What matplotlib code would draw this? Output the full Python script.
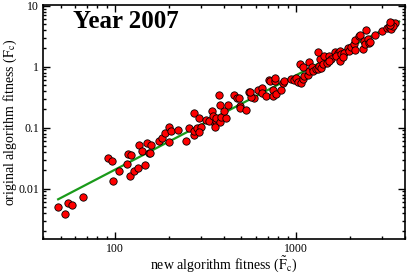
import matplotlib
matplotlib.use("Agg")
import matplotlib.pyplot as plt
import matplotlib.ticker as ticker

plt.rcParams['font.family'] = ['Liberation Serif', 'DejaVu Serif']
plt.rcParams['mathtext.fontset'] = 'stix'

# new algorithm fitness (x) vs original algorithm fitness (y)
new_fit = [48.7, 52.6, 54.8, 58.2, 66.4, 91.9, 95.9, 97.1, 105.6, 116, 118, 123, 121, 127, 134, 146,
           136, 141, 151, 158, 154, 175, 183, 189, 198, 199, 156,
           204, 223, 248, 258, 272, 274, 275, 291, 285, 297, 291, 320, 331, 345, 347, 356, 363, 371,
           360, 379, 384, 357, 412, 400, 379, 376, 421, 453, 470, 484, 489, 493, 527, 550, 583, 566,
           621, 648, 651, 685, 708, 555,
           745, 745, 778, 822, 721, 762, 768, 845, 864, 940, 981, 1003, 1024, 1069, 1100, 1104, 1161,
           1177, 1055, 1089, 1186, 1227, 1235, 1290, 1318, 1346, 1364, 1375, 1406, 1318, 1436, 1479,
           1530, 1563, 1530, 1652, 1700, 1752, 1665, 1775, 1752, 1850, 1810, 1929, 1972, 2014, 2100,
           2125, 2125, 2219, 2263, 2334, 2383, 2407, 2437, 2489, 2542, 2570, 2742, 2972, 3180, 3273,
           3370, 3412, 3520, 3460, 3300, 3330]
orig_fit = [0.0050, 0.0039, 0.0058, 0.0053, 0.0073, 0.032, 0.028, 0.0134, 0.0195, 0.0256, 0.037, 0.036,
            0.0163, 0.0197, 0.022, 0.0244, 0.052, 0.041, 0.057, 0.053, 0.038, 0.061, 0.069, 0.083, 0.101,
            0.058, 0.038,
            0.089, 0.091, 0.061, 0.098, 0.174, 0.076, 0.089, 0.142, 0.098, 0.101, 0.086, 0.134, 0.129,
            0.189, 0.157, 0.115, 0.130, 0.139, 0.142, 0.122, 0.148, 0.101, 0.142, 0.189, 0.234, 0.341,
            0.234, 0.345, 0.305, 0.305, 0.229, 0.207, 0.195, 0.378, 0.305, 0.316, 0.412, 0.44, 0.364,
            0.333, 0.607, 0.386,
            0.417, 0.325, 0.355, 0.412, 0.593, 0.593, 0.664, 0.542, 0.578, 0.622, 0.607, 0.648, 0.571,
            0.536, 0.640, 0.705, 0.733, 0.851, 1.09, 1.0, 1.19, 1.0, 0.851, 0.908, 0.932, 1.03, 1.32,
            0.958, 1.09, 1.74, 1.50, 1.17, 1.50, 1.32, 1.24, 1.74, 1.66, 1.80, 1.50, 1.59, 1.24, 1.70,
            1.46, 2.05, 1.80, 2.13, 2.32, 1.87, 2.69, 3.16, 3.25, 1.97, 2.62, 2.32, 4.07, 2.80, 2.47,
            2.55, 3.29, 3.82, 4.34, 4.5, 4.19, 5.11, 5.25, 4.73, 4.92, 5.4]

# power-law fit line (endpoints)
fit_x = [48.5, 3720]
fit_y = [0.0067, 5.5]

fig = plt.figure(figsize=(4.07, 2.74), dpi=100)
ax = fig.add_axes([0.1057, 0.128, 0.889, 0.854])

ax.plot(fit_x, fit_y, color='#1a9a1a', lw=1.6, zorder=2)
ax.scatter(new_fit, orig_fit, s=28, facecolor='#ff0000', edgecolor='black', linewidth=0.6, zorder=3)

ax.set_xscale('log')
ax.set_yscale('log')
ax.set_xlim(40, 4000)
ax.set_ylim(0.0015, 10.3)

ax.set_xticks([100, 1000])
ax.set_xticklabels(['100', '1000'])
ax.set_yticks([0.01, 0.1, 1, 10])
ax.set_yticklabels(['0.01', '0.1', '1', '10'])
ax.xaxis.set_minor_locator(ticker.LogLocator(base=10, subs=range(2, 10)))
ax.yaxis.set_minor_locator(ticker.LogLocator(base=10, subs=range(2, 10)))
ax.xaxis.set_minor_formatter(ticker.NullFormatter())
ax.yaxis.set_minor_formatter(ticker.NullFormatter())

ax.tick_params(which='both', direction='in', top=True, right=True, labelsize=8.5, width=1, pad=3)
ax.tick_params(which='major', length=5)
ax.tick_params(which='minor', length=2.5)
for sp in ax.spines.values():
    sp.set_linewidth(1.2)

ax.set_xlabel(r'new algorithm fitness ($\tilde{\mathrm{F}}_\mathrm{c}$)', fontsize=10, labelpad=-1)
ax.set_ylabel(r'original algorithm fitness ($\mathrm{F}_\mathrm{c}$)', fontsize=10, labelpad=-1)

ax.text(0.083, 0.928, 'Year 2007', transform=ax.transAxes, fontsize=18, fontweight='bold', va='center')

fig.savefig('out.png', dpi=100)
